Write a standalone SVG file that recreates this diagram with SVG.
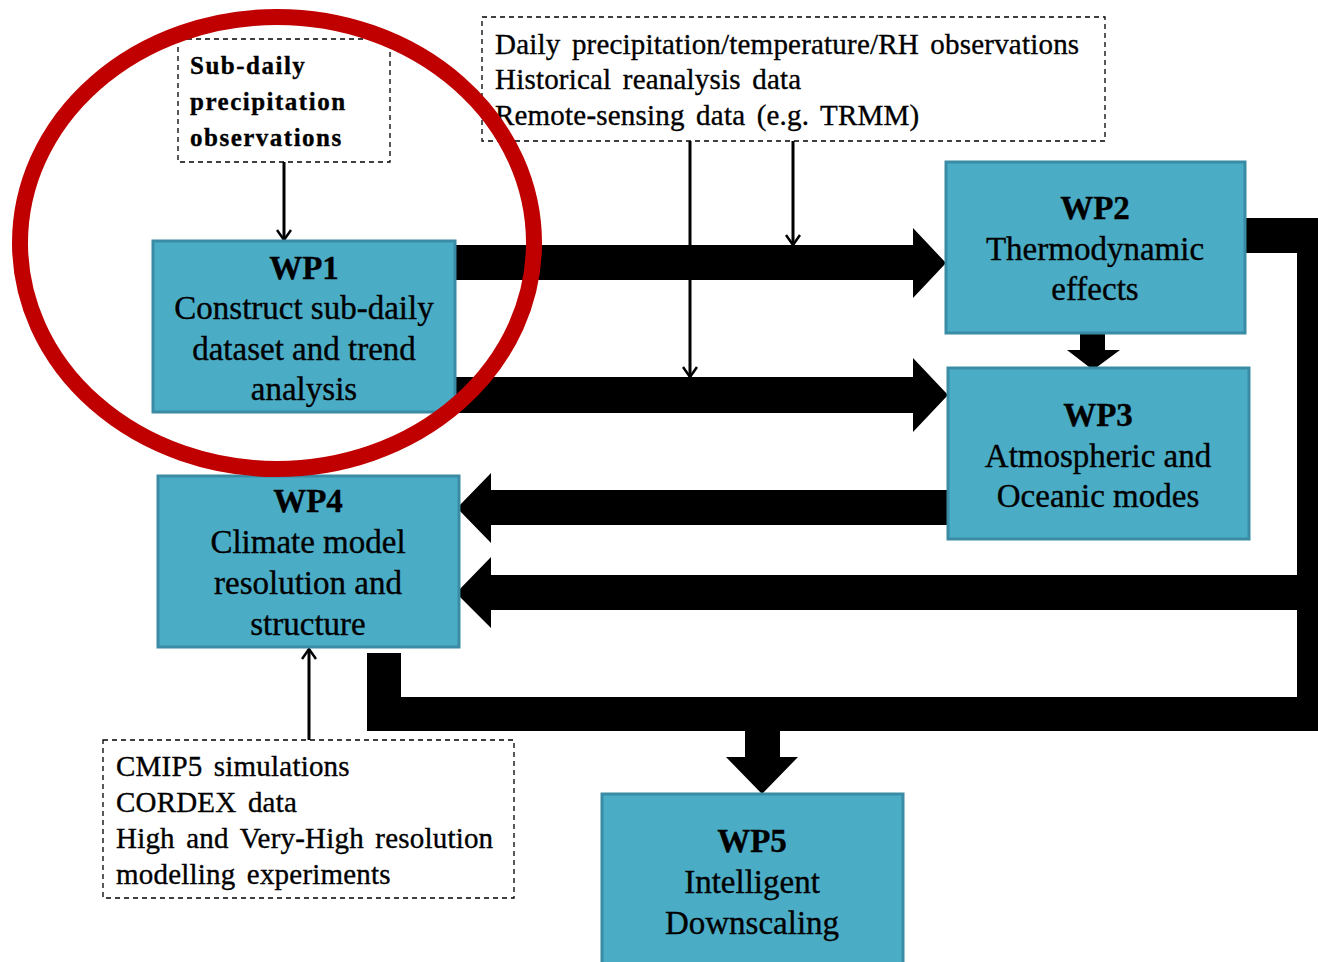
<svg xmlns="http://www.w3.org/2000/svg" width="1318" height="962" viewBox="0 0 1318 962">
<defs>
<style>
.wp{fill:#4BACC6;stroke:#3A8CA4;stroke-width:3}
.dash{fill:#fff;stroke:#000;stroke-width:1.3;stroke-dasharray:5,4}
.t{font-family:"Liberation Serif","Times New Roman",serif;fill:#000;stroke:#000;stroke-width:0.35px}
.h{font-size:33px;font-weight:bold;text-anchor:middle}
.b{font-size:33px;text-anchor:middle}
.n{font-size:29px;letter-spacing:0.2px;word-spacing:4px}
.s{font-size:25px;font-weight:bold;letter-spacing:1.5px}
.thick{fill:#000}
.thin{stroke:#000;stroke-width:3;fill:none}
</style>
<marker id="vh" viewBox="0 0 12 16" refX="11" refY="8" markerWidth="12" markerHeight="16" markerUnits="userSpaceOnUse" orient="auto">
<path d="M1,1 L11,8 L1,15" fill="none" stroke="#000" stroke-width="2.5"/>
</marker>
</defs>
<rect width="1318" height="962" fill="#fff"/>

<g id="connectors">
<polygon class="thick" points="455,245 913,245 913,228 946,263 913,298 913,280 455,280"/>
<polygon class="thick" points="455,377 913,377 913,358 948,395 913,432 913,413 455,413"/>
<polygon class="thick" points="1080,333 1105,333 1105,350 1120,350 1093,370 1067,350 1080,350"/>
<polygon class="thick" points="948,490 491,490 491,473 457,508 491,543 491,525 948,525"/>
<rect class="thick" x="1245" y="218" width="75" height="35"/>
<rect class="thick" x="1297" y="218" width="23" height="513"/>
<polygon class="thick" points="1300,575 491,575 491,557 456,593 491,628 491,610 1300,610"/>
<rect class="thick" x="367" y="653" width="34" height="78"/>
<rect class="thick" x="367" y="697" width="953" height="34"/>
<polygon class="thick" points="745,730 780,730 780,757 798,757 762,794 726,757 745,757"/>
<line class="thin" x1="284" y1="162" x2="284" y2="240" marker-end="url(#vh)"/>
<line class="thin" x1="690" y1="141" x2="690" y2="377" marker-end="url(#vh)"/>
<line class="thin" x1="793" y1="137" x2="793" y2="245" marker-end="url(#vh)"/>
<line class="thin" x1="309" y1="740" x2="309" y2="649" marker-end="url(#vh)"/>
</g>

<g id="subdaily">
<rect class="dash" x="178" y="39" width="212" height="123"/>
<text class="t s" x="190" y="74">Sub-daily</text>
<text class="t s" x="190" y="110">precipitation</text>
<text class="t s" x="190" y="146">observations</text>
</g>

<g id="obs">
<rect class="dash" x="482" y="17" width="623" height="124"/>
<text class="t n" x="495" y="54">Daily precipitation/temperature/RH observations</text>
<text class="t n" x="495" y="89">Historical reanalysis data</text>
<text class="t n" x="495" y="125">Remote-sensing data (e.g. TRMM)</text>
</g>

<g id="wp1">
<rect class="wp" x="153" y="241" width="302" height="171"/>
<text class="t h" x="304" y="279">WP1</text>
<text class="t b" x="304" y="319">Construct sub-daily</text>
<text class="t b" x="304" y="360">dataset and trend</text>
<text class="t b" x="304" y="400">analysis</text>
</g>

<g id="wp2">
<rect class="wp" x="946" y="162" width="299" height="171"/>
<text class="t h" x="1095" y="219">WP2</text>
<text class="t b" x="1095" y="260">Thermodynamic</text>
<text class="t b" x="1095" y="300">effects</text>
</g>

<g id="wp3">
<rect class="wp" x="948" y="368" width="301" height="171"/>
<text class="t h" x="1098" y="426">WP3</text>
<text class="t b" x="1098" y="467">Atmospheric and</text>
<text class="t b" x="1098" y="507">Oceanic modes</text>
</g>

<g id="wp4">
<rect class="wp" x="158" y="476" width="301" height="171"/>
<text class="t h" x="308" y="512">WP4</text>
<text class="t b" x="308" y="553">Climate model</text>
<text class="t b" x="308" y="594">resolution and</text>
<text class="t b" x="308" y="635">structure</text>
</g>

<g id="cmip">
<rect class="dash" x="103" y="740" width="411" height="158"/>
<text class="t n" x="116" y="776">CMIP5 simulations</text>
<text class="t n" x="116" y="812">CORDEX data</text>
<text class="t n" x="116" y="848">High and Very-High resolution</text>
<text class="t n" x="116" y="884">modelling experiments</text>
</g>

<g id="wp5">
<rect class="wp" x="602" y="794" width="301" height="175"/>
<text class="t h" x="752" y="852">WP5</text>
<text class="t b" x="752" y="893">Intelligent</text>
<text class="t b" x="752" y="934">Downscaling</text>
</g>

<g id="highlight">
<ellipse cx="277" cy="243" rx="257" ry="226" fill="none" stroke="#C00000" stroke-width="16"/>
</g>
</svg>
